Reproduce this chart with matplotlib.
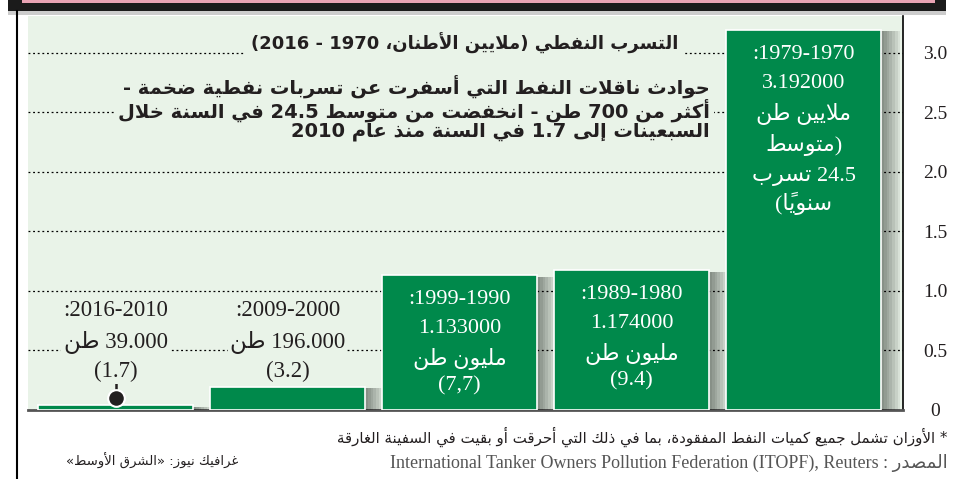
import re
import matplotlib
matplotlib.use('Agg')
import matplotlib.pyplot as plt
import matplotlib.transforms as mtransforms
from matplotlib import patheffects as pe
from matplotlib.patches import Rectangle

# data, left to right as drawn
periods = ['2010-2016', '2000-2009', '1990-1999', '1980-1989', '1970-1979']
spilled_mt = [0.039, 0.196, 1.133, 1.174, 3.192]   # million tonnes
range_labels = [':2016-2010', ':2009-2000', ':1999-1990', ':1989-1980', ':1979-1970']
amount_labels = ['39.000 طن', '196.000 طن', '1.133000', '1.174000', '3.192000']
unit_labels = ['', '', 'مليون طن', 'مليون طن', 'ملايين طن']
avg_labels = ['(1.7)', '(3.2)', '(7,7)', '(9.4)', '(متوسط\n24.5 تسرب\nسنوياً)']
yticks = [0, 0.5, 1.0, 1.5, 2.0, 2.5, 3.0]
ytick_labels = ['0', '0.5', '1.0', '1.5', '2.0', '2.5', '3.0']

title = 'التسرب النفطي (ملايين الأطنان، 1970 - 2016)'
subtitle = ('حوادث ناقلات النفط التي أسفرت عن تسربات نفطية ضخمة -\n'
            'أكثر من 700 طن - انخفضت من متوسط 24.5 في السنة خلال\n'
            'السبعينات إلى 1.7 في السنة منذ عام 2010')
note = '* الأوزان تشمل جميع كميات النفط المفقودة، بما في ذلك التي أحرقت أو بقيت في السفينة الغارقة'
source = 'المصدر : International Tanker Owners Pollution Federation (ITOPF), Reuters'
credit = 'غرافيك نيوز: «الشرق الأوسط»'

GREEN = '#00894b'
PANEL = '#e9f3e8'
INK = '#231f20'

# --- minimal arabic shaping + right-to-left ordering (matplotlib has none) ---
LETTERS = 'ءآأؤإئابةتثجحخدذرزسشصضطظعغفقكلمنهوىي'
TWO_FORMS = set('آأؤإاةدذرزوى')
FORMS = {}
cp = 0xFE80
for ch in LETTERS:
    n = 1 if ch == 'ء' else (2 if ch in TWO_FORMS else 4)
    FORMS[ch] = [chr(cp + k) for k in range(n)]
    cp += n
LAM_ALEF = {'آ': 0xFEF5, 'أ': 0xFEF7, 'إ': 0xFEF9, 'ا': 0xFEFB}
MIRROR = {'(': ')', ')': '(', '«': '»', '»': '«'}
TOKEN = re.compile(r'[\u0621-\u0652]+|[A-Za-z](?:[^\u0600-\u06ff]*[A-Za-z0-9])?|\d+(?:[.,]\d+)*|.')


def shape(word):
    units = []
    i = 0
    while i < len(word):
        c = word[i]
        if c == 'ل' and i + 1 < len(word) and word[i + 1] in LAM_ALEF:
            units.append(['LA', word[i + 1], ''])
            i += 2
            continue
        if c in FORMS:
            units.append(['L', c, ''])
        elif units:
            units[-1][2] += c          # diacritic stays with its letter
        i += 1
    clusters = []
    for k, (kind, c, marks) in enumerate(units):
        prev = units[k - 1] if k > 0 else None
        nxt = units[k + 1] if k + 1 < len(units) else None
        p = prev is not None and prev[0] == 'L' and len(FORMS[prev[1]]) == 4
        if kind == 'LA':
            g = chr(LAM_ALEF[c] + (1 if p else 0))
        else:
            f = FORMS[c]
            n = nxt is not None and len(f) == 4 and nxt[1] != 'ء'
            if len(f) == 4:
                g = f[3] if (p and n) else f[1] if p else f[2] if n else f[0]
            elif len(f) == 2:
                g = f[1] if p else f[0]
            else:
                g = f[0]
        clusters.append(g + marks)
    return ''.join(reversed(clusters))


def ar(text):
    out = []
    for line in text.split('\n'):
        if not re.search('[\u0600-\u06ff]', line):
            out.append(line)
            continue
        parts = []
        for tok in TOKEN.findall(line):
            if '\u0621' <= tok[0] <= '\u0652':
                parts.append(shape(tok))
            elif len(tok) == 1:
                parts.append(MIRROR.get(tok, tok))
            else:
                parts.append(tok)
        out.append(''.join(reversed(parts)))
    return '\n'.join(out)


SERIF = ['Liberation Serif', 'DejaVu Sans']
SANS = ['DejaVu Sans']

fig = plt.figure(figsize=(9.54, 4.79), dpi=100)
fig.patch.set_facecolor('white')


def fx(px):
    return px / 954


def fy(py):
    return 1 - py / 479


ax = fig.add_axes([fx(28), fy(410), fx(903) - fx(28), fy(16) - fy(410)])
ax.set_facecolor(PANEL)

x = list(range(len(periods)))
bars = ax.bar(x, spilled_mt, width=0.9, color=GREEN, edgecolor='white', linewidth=1.2, zorder=3)
# soft right-hand drop shadow, built from a few stacked offsets
shadow = [pe.SimplePatchShadow(offset=(k, -1), shadow_rgbFace='black', alpha=0.07)
          for k in range(2, 16, 2)]
for b in bars:
    b.set_path_effects(shadow + [pe.Normal()])

ax.set_xlim(-0.509, 4.578)
ax.set_ylim(0, 3.31)
ax.set_xticks([])
ax.set_yticks(yticks)
ax.set_yticklabels(ytick_labels, family=SERIF, fontsize=14, color=INK)
ax.yaxis.tick_right()
ax.tick_params(axis='y', length=0, pad=23)
for lab in ax.get_yticklabels():
    lab.set_horizontalalignment('center')
ax.grid(axis='y', color='black', linestyle=(0, (1.5, 2.2)), linewidth=0.9)
ax.set_axisbelow(True)
for s in ['left', 'top']:
    ax.spines[s].set_visible(False)
ax.spines['right'].set_color('black')
ax.spines['right'].set_linewidth(1.2)
ax.spines['bottom'].set_color('#555555')
ax.spines['bottom'].set_linewidth(2)

# lollipop marker on the tiny 2010-2016 bar
ax.plot([0, 0], [spilled_mt[0] + 0.06, 0.23], color=INK, lw=1.8, zorder=4)
ax.plot([0], [spilled_mt[0] + 0.06], 'o', ms=12, mfc=INK, mec='white', mew=1.5, zorder=5)

# bar labels
blend = mtransforms.blended_transform_factory(ax.transData, fig.transFigure)
mask = dict(facecolor=PANEL, edgecolor='none', pad=1.5)
for i, v in enumerate(spilled_mt):
    if v < 0.5:
        for txt, py in [(range_labels[i], 310), (amount_labels[i], 342), (avg_labels[i], 371)]:
            ax.text(i, fy(py), ar(txt), transform=blend, ha='center', va='center',
                    family=SERIF, fontsize=16.5, color=INK, bbox=mask, zorder=6)
    else:
        lines = [range_labels[i], amount_labels[i], unit_labels[i]] + avg_labels[i].split('\n')
        off = 24
        for k, txt in enumerate(lines):
            ax.annotate(ar(txt), xy=(i, v), xytext=(0, -off * 0.72),
                        textcoords='offset points', ha='center', va='center',
                        family=SERIF, fontsize=16, color='white', zorder=6)
            if k == 0:
                off += 29
            elif k + 2 == len(lines):
                off += 27
            else:
                off += 31

# title block
fig.text(fx(678), fy(43), ar(title), ha='right', va='center', family=SANS, fontweight='bold',
         fontsize=13, color=INK, bbox=dict(facecolor=PANEL, edgecolor='none', pad=4))
fig.text(fx(710), fy(108), ar(subtitle), ha='right', va='center', family=SANS, fontweight='bold',
         fontsize=14, color=INK, multialignment='right', linespacing=1.02,
         bbox=dict(facecolor=PANEL, edgecolor='none', pad=3))

# header strip from the page above, and left page rule
fig.add_artist(Rectangle((fx(8), fy(11)), fx(946) - fx(8), fy(0) - fy(11), transform=fig.transFigure,
                         facecolor='#1b1b1b', edgecolor='none'))
fig.add_artist(Rectangle((fx(22), fy(3)), fx(935) - fx(22), fy(0) - fy(3), transform=fig.transFigure,
                         facecolor='#e9a3b4', edgecolor='none'))
fig.add_artist(Rectangle((fx(8), fy(15)), fx(946) - fx(8), fy(11) - fy(15), transform=fig.transFigure,
                         facecolor='#9a9a9a', edgecolor='none', alpha=0.5))
fig.add_artist(plt.Line2D([fx(17), fx(17)], [fy(11), 0], transform=fig.transFigure, color='black', lw=1.5))

# footer
fig.text(fx(948), fy(437), ar(note), ha='right', va='center', family=SANS, fontsize=10.8, color=INK)
fig.text(fx(948), fy(463), ar(source), ha='right', va='center', family=SERIF, fontsize=13,
         color='#555555')
fig.text(fx(238), fy(461), ar(credit), ha='right', va='center', family=SANS, fontsize=9.5, color=INK)

fig.savefig('out.png', dpi=100)
